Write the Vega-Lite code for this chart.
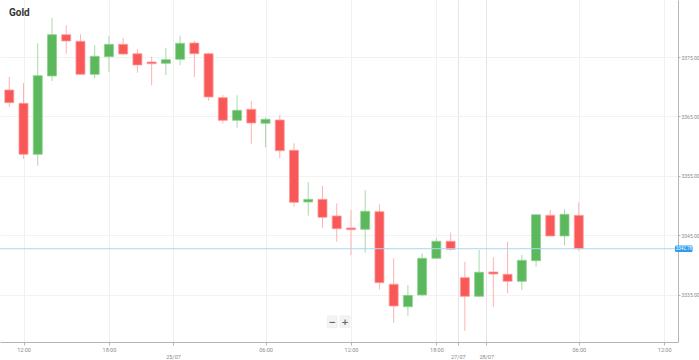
{
  "$schema": "https://vega.github.io/schema/vega-lite/v6.json",
  "width": 678,
  "height": 342,
  "padding": {"left": 0, "top": 0, "right": 21, "bottom": 18},
  "autosize": "none",
  "background": "white",
  "title": {"text": "Gold", "anchor": "start", "frame": "group", "offset": 0, "dx": 9, "dy": 18, "fontSize": 10, "fontWeight": "bold", "font": "Roboto", "color": "#333333"},
  "config": {
    "view": {"stroke": null},
    "axis": {"labelFont": "Roboto", "labelFontSize": 5.5, "labelColor": "#8a8a8a", "domainColor": "#b5b5b5", "tickColor": "#b5b5b5", "gridColor": "#f2f2f2", "title": null}
  },
  "datasets": {
    "candles": [
      {"i": 0, "o": 3369.45, "c": 3367.32, "h": 3371.64, "l": 3366.6},
      {"i": 1, "o": 3367.22, "c": 3358.65, "h": 3370.63, "l": 3357.9},
      {"i": 2, "o": 3358.65, "c": 3371.86, "h": 3377.3, "l": 3356.73},
      {"i": 3, "o": 3371.81, "c": 3378.75, "h": 3381.55, "l": 3370.97},
      {"i": 4, "o": 3378.75, "c": 3377.69, "h": 3380.33, "l": 3375.55},
      {"i": 5, "o": 3377.64, "c": 3372.09, "h": 3378.82, "l": 3372.0},
      {"i": 6, "o": 3372.09, "c": 3375.12, "h": 3376.97, "l": 3371.42},
      {"i": 7, "o": 3375.05, "c": 3377.13, "h": 3378.53, "l": 3372.53},
      {"i": 8, "o": 3377.13, "c": 3375.5, "h": 3378.19, "l": 3375.34},
      {"i": 9, "o": 3375.55, "c": 3373.66, "h": 3376.34, "l": 3372.36},
      {"i": 10, "o": 3374.16, "c": 3373.87, "h": 3375.05, "l": 3370.24},
      {"i": 11, "o": 3373.94, "c": 3374.55, "h": 3376.51, "l": 3371.97},
      {"i": 12, "o": 3374.61, "c": 3377.3, "h": 3378.58, "l": 3373.61},
      {"i": 13, "o": 3377.35, "c": 3375.55, "h": 3377.74, "l": 3371.59},
      {"i": 14, "o": 3375.55, "c": 3368.28, "h": 3375.72, "l": 3367.66},
      {"i": 15, "o": 3368.16, "c": 3364.36, "h": 3368.61, "l": 3363.86},
      {"i": 16, "o": 3364.36, "c": 3366.04, "h": 3368.56, "l": 3363.12},
      {"i": 17, "o": 3366.21, "c": 3363.91, "h": 3367.61, "l": 3360.43},
      {"i": 18, "o": 3363.86, "c": 3364.53, "h": 3364.8, "l": 3359.82},
      {"i": 19, "o": 3364.41, "c": 3359.25, "h": 3365.25, "l": 3358.0},
      {"i": 20, "o": 3359.32, "c": 3350.58, "h": 3360.5, "l": 3349.84},
      {"i": 21, "o": 3350.63, "c": 3351.08, "h": 3353.99, "l": 3348.33},
      {"i": 22, "o": 3351.08, "c": 3348.06, "h": 3353.32, "l": 3346.26},
      {"i": 23, "o": 3348.28, "c": 3346.14, "h": 3350.41, "l": 3343.96},
      {"i": 24, "o": 3346.26, "c": 3345.98, "h": 3349.29, "l": 3341.67},
      {"i": 25, "o": 3346.04, "c": 3349.07, "h": 3352.65, "l": 3342.11},
      {"i": 26, "o": 3349.0, "c": 3337.07, "h": 3350.24, "l": 3335.96},
      {"i": 27, "o": 3336.8, "c": 3333.15, "h": 3341.17, "l": 3330.34},
      {"i": 28, "o": 3333.03, "c": 3334.94, "h": 3336.68, "l": 3331.52},
      {"i": 29, "o": 3335.0, "c": 3341.17, "h": 3342.0, "l": 3334.9},
      {"i": 30, "o": 3341.17, "c": 3344.03, "h": 3344.58, "l": 3341.1},
      {"i": 31, "o": 3344.03, "c": 3342.69, "h": 3345.47, "l": 3342.45},
      {"i": 32, "o": 3337.91, "c": 3334.78, "h": 3340.6, "l": 3329.0},
      {"i": 33, "o": 3334.78, "c": 3338.82, "h": 3342.56, "l": 3334.7},
      {"i": 34, "o": 3338.87, "c": 3338.53, "h": 3341.34, "l": 3332.98},
      {"i": 35, "o": 3338.48, "c": 3337.3, "h": 3343.96, "l": 3335.29},
      {"i": 36, "o": 3337.3, "c": 3340.83, "h": 3341.72, "l": 3335.84},
      {"i": 37, "o": 3340.76, "c": 3348.49, "h": 3348.5, "l": 3339.76},
      {"i": 38, "o": 3348.39, "c": 3344.92, "h": 3349.29, "l": 3344.9},
      {"i": 39, "o": 3344.92, "c": 3348.56, "h": 3349.4, "l": 3343.35},
      {"i": 40, "o": 3348.39, "c": 3342.78, "h": 3350.58, "l": 3342.45}
    ],
    "last": [{"price": 3342.78, "top": 3343.33, "bottom": 3342.23, "x1": 46.76, "x2": 48.0, "xm": 47.38, "label": "3342.78"}],
    "zoomctl": [
      {"i": 22.68, "a": 22.33, "b": 23.03, "p": 3330.5, "p1": 3331.5, "p2": 3329.5, "t": "−"},
      {"i": 23.58, "a": 23.23, "b": 23.93, "p": 3330.5, "p1": 3331.5, "p2": 3329.5, "t": "+"}
    ]
  },
  "layer": [
    {
      "data": {"name": "candles"},
      "mark": {"type": "rule", "strokeWidth": 1},
      "encoding": {
        "x": {
          "field": "i", "type": "quantitative",
          "scale": {"domain": [-0.3, 46.62], "nice": false, "zero": false},
          "axis": {
            "values": [1, 7, 11.5, 18, 24, 30, 31.5, 33.5, 40, 46],
            "labelExpr": "datum.value == 11.5 ? ['', '25/07'] : datum.value == 31.5 ? ['', '27/07'] : datum.value == 33.5 ? ['', '28/07'] : (datum.value == 1 || datum.value == 24 || datum.value == 46) ? '12:00' : (datum.value == 7 || datum.value == 30) ? '18:00' : '06:00'",
            "labelLineHeight": 7,
            "labelPadding": 2,
            "tickSize": 3,
            "grid": true,
            "gridColor": {"condition": {"test": "datum.value == 31.5 || datum.value == 33.5", "value": "#e4e4e4"}, "value": "#f0f0f0"},
            "labelFlush": false,
            "labelOverlap": false
          }
        },
        "y": {
          "field": "l", "type": "quantitative",
          "scale": {"domain": [3327.1, 3384.58], "nice": false, "zero": false},
          "axis": {"orient": "right", "values": [3335, 3345, 3355, 3365, 3375], "format": ".2f", "tickSize": 2, "labelPadding": 1, "grid": true, "labelFontSize": 5}
        },
        "y2": {"field": "h"},
        "color": {"condition": {"test": "datum.c >= datum.o", "value": "#a8dba8"}, "value": "#ffb2b2"}
      }
    },
    {
      "data": {"name": "candles"},
      "mark": {"type": "bar", "size": 9, "strokeWidth": 0.8},
      "encoding": {
        "x": {"field": "i", "type": "quantitative"},
        "y": {"field": "o", "type": "quantitative"},
        "y2": {"field": "c"},
        "color": {"condition": {"test": "datum.c >= datum.o", "value": "#5cb85c"}, "value": "#f95858"},
        "stroke": {"condition": {"test": "datum.c >= datum.o", "value": "#8fd18f"}, "value": "#ff9a9a"}
      }
    },
    {
      "data": {"name": "last"},
      "mark": {"type": "rule", "color": "#a9d8f7", "strokeWidth": 1},
      "encoding": {"y": {"field": "price", "type": "quantitative"}}
    },
    {
      "data": {"name": "last"},
      "mark": {"type": "rect", "color": "#2f9cf0", "cornerRadius": 1.5},
      "encoding": {
        "x": {"field": "x1", "type": "quantitative"},
        "x2": {"field": "x2"},
        "y": {"field": "top", "type": "quantitative"},
        "y2": {"field": "bottom"}
      }
    },
    {
      "data": {"name": "last"},
      "mark": {"type": "text", "color": "white", "fontSize": 4.5, "font": "Roboto"},
      "encoding": {
        "x": {"field": "xm", "type": "quantitative"},
        "y": {"field": "price", "type": "quantitative"},
        "text": {"field": "label"}
      }
    },
    {
      "data": {"name": "zoomctl"},
      "mark": {"type": "rect", "color": "#f3f3f3", "stroke": "#e8e8e8", "strokeWidth": 0.5, "cornerRadius": 1},
      "encoding": {
        "x": {"field": "a", "type": "quantitative"},
        "x2": {"field": "b"},
        "y": {"field": "p1", "type": "quantitative"},
        "y2": {"field": "p2"}
      }
    },
    {
      "data": {"name": "zoomctl"},
      "mark": {"type": "text", "color": "#666666", "fontSize": 9, "font": "DejaVu Sans", "fontWeight": "bold"},
      "encoding": {
        "x": {"field": "i", "type": "quantitative"},
        "y": {"field": "p", "type": "quantitative"},
        "text": {"field": "t"}
      }
    }
  ]
}
